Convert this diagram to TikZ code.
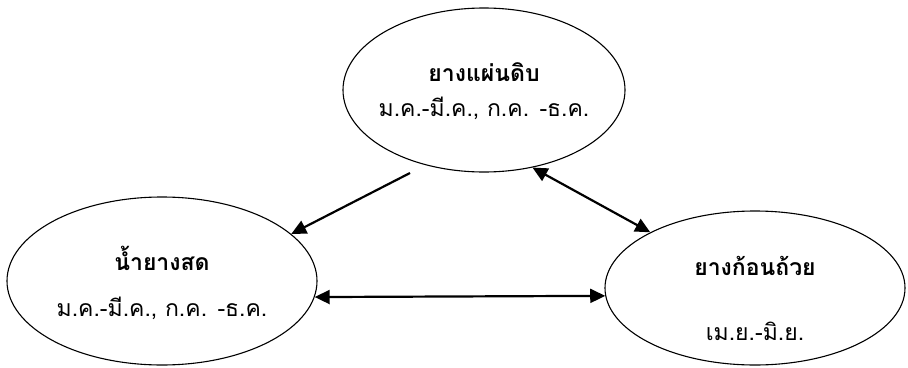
\documentclass[tikz,border=0pt]{standalone}
\usepackage{fontspec}
\newfontfamily\thaifont[Script=Thai]{Loma}
\usepackage{tikz}
\usetikzlibrary{shapes.geometric}
\usetikzlibrary{arrows.meta}

\begin{document}
\begin{tikzpicture}[x=1pt, y=-1pt,
	oval/.style={draw, ellipse, inner sep=0pt, line width=1.1pt},
	title/.style={font=\thaifont\bfseries\fontsize{23}{27}\selectfont},
	months/.style={font=\thaifont\fontsize{23}{27}\selectfont}]
	\useasboundingbox (0,0) rectangle (908,367);
	% the three kinds of rubber
	\node[oval, minimum width=282pt, minimum height=164pt] (raw) at (484,90) {};
	\node[oval, minimum width=310pt, minimum height=168pt] (fresh) at (162,281) {};
	\node[oval, minimum width=300pt, minimum height=154pt] (cup) at (755,288) {};
	\node[title] (rawname) at (484,72) {ยางแผ่นดิบ};
	\node[months] (rawtime) at (484,108) {ม.ค.-มี.ค., ก.ค. -ธ.ค.};
	\node[title] (freshname) at (162,258) {น้ำยางสด};
	\node[months] (freshtime) at (162,308) {ม.ค.-มี.ค., ก.ค. -ธ.ค.};
	\node[title] (cupname) at (755,266) {ยางก้อนถ้วย};
	\node[months] (cuptime) at (755,331) {เม.ย.-มิ.ย.};
	\coordinate (rawfoot) at (410,173);
	\path[-{Triangle[length=15pt, width=14pt]}, line width=2.2pt]
	(rawfoot) edge (fresh.20);
	\path[{Triangle[length=15pt, width=14pt]}-{Triangle[length=15pt, width=14pt]}, line width=2.2pt]
	(raw.-58) edge (cup.152)
	(fresh.-6) edge (cup.183);
\end{tikzpicture}
\end{document}
